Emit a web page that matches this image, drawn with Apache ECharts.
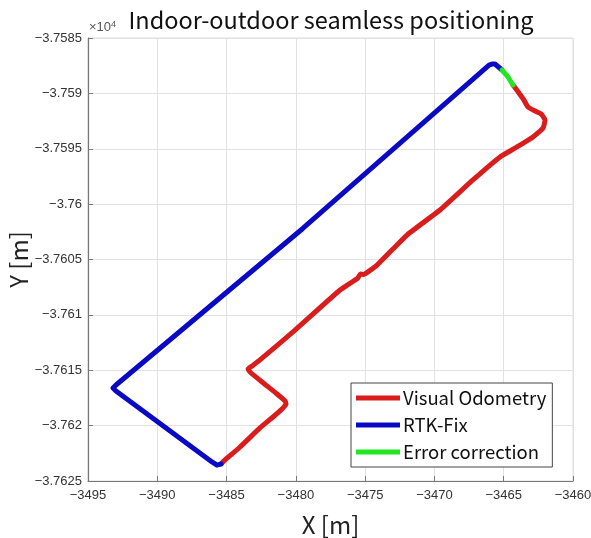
<!DOCTYPE html>
<html>
<head>
<meta charset="utf-8">
<script src="https://cdn.jsdelivr.net/npm/echarts@6/dist/echarts.min.js"></script>
<style>html,body{margin:0;padding:0;background:#fff;}#c{width:591px;height:538px;}</style>
</head>
<body>
<div id="c"></div>
<script>
// Visual Odometry (red)
var voX = [-3485.40, -3485.19, -3484.03, -3482.59, -3481.65, -3481.00, -3480.71, -3480.78, -3481.36, -3482.44, -3483.31, -3483.45, -3483.16, -3482.59, -3480.06, -3476.81, -3475.52, -3475.35, -3475.15, -3474.14, -3471.98, -3469.60, -3467.22, -3465.27, -3464.04, -3462.89, -3462.16, -3462.02, -3462.31, -3462.74, -3463.25, -3463.54, -3463.90, -3464.33];
var voY = [-37623.46, -37623.19, -37621.93, -37620.21, -37619.22, -37618.50, -37618.05, -37617.78, -37617.14, -37616.06, -37615.16, -37614.89, -37614.62, -37614.07, -37611.37, -37607.75, -37606.67, -37606.30, -37606.35, -37605.50, -37602.79, -37600.53, -37597.82, -37595.74, -37594.84, -37593.94, -37593.13, -37592.40, -37591.86, -37591.59, -37591.23, -37590.60, -37589.97, -37589.24];
// Error correction (green)
var ecX = [-3464.33, -3464.69, -3465.12];
var ecY = [-37589.24, -37588.52, -37587.89];
// RTK-Fix (blue)
var rtkX = [-3465.12, -3465.63, -3465.85, -3466.06, -3479.50, -3492.98, -3493.20, -3492.98, -3486.05, -3485.69, -3485.40];
var rtkY = [-37587.89, -37587.35, -37587.35, -37587.44, -37602.20, -37616.33, -37616.60, -37616.87, -37623.28, -37623.56, -37623.46];

var xTicks = [-3495, -3490, -3485, -3480, -3475, -3470, -3465, -3460];
var yTicks = [-37625, -37620, -37615, -37610, -37605, -37600, -37595, -37590, -37585];

function pairs(xs, ys) { return xs.map(function (x, i) { return [x, ys[i]]; }); }
function minus(s) { return String(s).replace('-', '\u2212'); }

var chart = echarts.init(document.getElementById('c'), null, { renderer: 'canvas' });
var labelFont = '"Liberation Sans Narrow", "Liberation Sans", Arial, sans-serif';
var option = {
  backgroundColor: '#fff',
  animation: false,
  title: {
    text: 'Indoor-outdoor seamless positioning',
    left: 326, top: 3, textAlign: 'center',
    textStyle: { fontFamily: '"Noto Sans CJK JP", sans-serif', fontWeight: 'normal', fontSize: 23.5, color: '#111' }
  },
  grid: { left: 88, right: 18, top: 38, bottom: 57, show: true, borderColor: '#dcdcdc', borderWidth: 1,
    containLabel: false, outerBoundsMode: 'none' },
  xAxis: {
    type: 'value', min: xTicks[0], max: xTicks[xTicks.length - 1], interval: 5,
    name: 'X [m]', nameLocation: 'middle', nameGap: 32, nameMoveOverlap: false,
    nameTextStyle: { fontFamily: '"Noto Sans CJK JP", sans-serif', fontSize: 24, color: '#222' },
    axisLine: { show: true, lineStyle: { color: '#777', width: 1.2 } },
    axisTick: { show: true, inside: true, length: 5, lineStyle: { color: '#777' } },
    axisLabel: { fontFamily: labelFont, fontSize: 13, color: '#333', margin: 8, formatter: function (v) { return minus(v); } },
    splitLine: { show: true, lineStyle: { color: '#e2e2e2', width: 1 } }
  },
  yAxis: {
    type: 'value', min: yTicks[0], max: yTicks[yTicks.length - 1], interval: 5,
    name: 'Y [m]', nameLocation: 'middle', nameGap: 57, nameRotate: 90, nameMoveOverlap: false,
    nameTextStyle: { fontFamily: '"Noto Sans CJK JP", sans-serif', fontSize: 24, color: '#222' },
    axisLine: { show: true, lineStyle: { color: '#777', width: 1.2 } },
    axisTick: { show: true, inside: true, length: 5, lineStyle: { color: '#777' } },
    axisLabel: { fontFamily: labelFont, fontSize: 13, color: '#333', margin: 6,
      formatter: function (v) { return minus(parseFloat((v / 1e4).toFixed(5)).toString()); } },
    splitLine: { show: true, lineStyle: { color: '#e2e2e2', width: 1 } }
  },
  legend: {
    orient: 'vertical', left: 351, top: 383,
    backgroundColor: '#fff', borderColor: '#444', borderWidth: 1,
    padding: [4, 6, 4, 5], itemGap: 5, itemWidth: 44, itemHeight: 5,
    icon: 'rect',
    textStyle: { fontFamily: '"Noto Sans CJK JP", sans-serif', fontSize: 18.5, color: '#111', lineHeight: 22, padding: [0, 0, 0, -2] },
    data: ['Visual Odometry', 'RTK-Fix', 'Error correction']
  },
  graphic: [{
    type: 'text', left: 89, top: 20,
    style: { text: '\u00d710{s|4}', fill: '#555', font: '13px ' + labelFont,
      rich: { s: { fontSize: 9, verticalAlign: 'top', fill: '#555', padding: [0, 0, 6, 0] } } }
  }],
  series: [
    { name: 'Visual Odometry', type: 'line', data: pairs(voX, voY), showSymbol: false, smooth: 0.15,
      lineStyle: { color: '#d91c1c', width: 5, cap: 'round', join: 'round' }, itemStyle: { color: '#d91c1c' }, z: 3 },
    { name: 'RTK-Fix', type: 'line', data: pairs(rtkX, rtkY), showSymbol: false,
      lineStyle: { color: '#0a0ac4', width: 5, cap: 'round', join: 'round' }, itemStyle: { color: '#0a0ac4' }, z: 3 },
    { name: 'Error correction', type: 'line', data: pairs(ecX, ecY), showSymbol: false,
      lineStyle: { color: '#22e622', width: 5, cap: 'round', join: 'round' }, itemStyle: { color: '#22e622' }, z: 4 }
  ]
};
chart.setOption(option);
</script>
</body>
</html>
